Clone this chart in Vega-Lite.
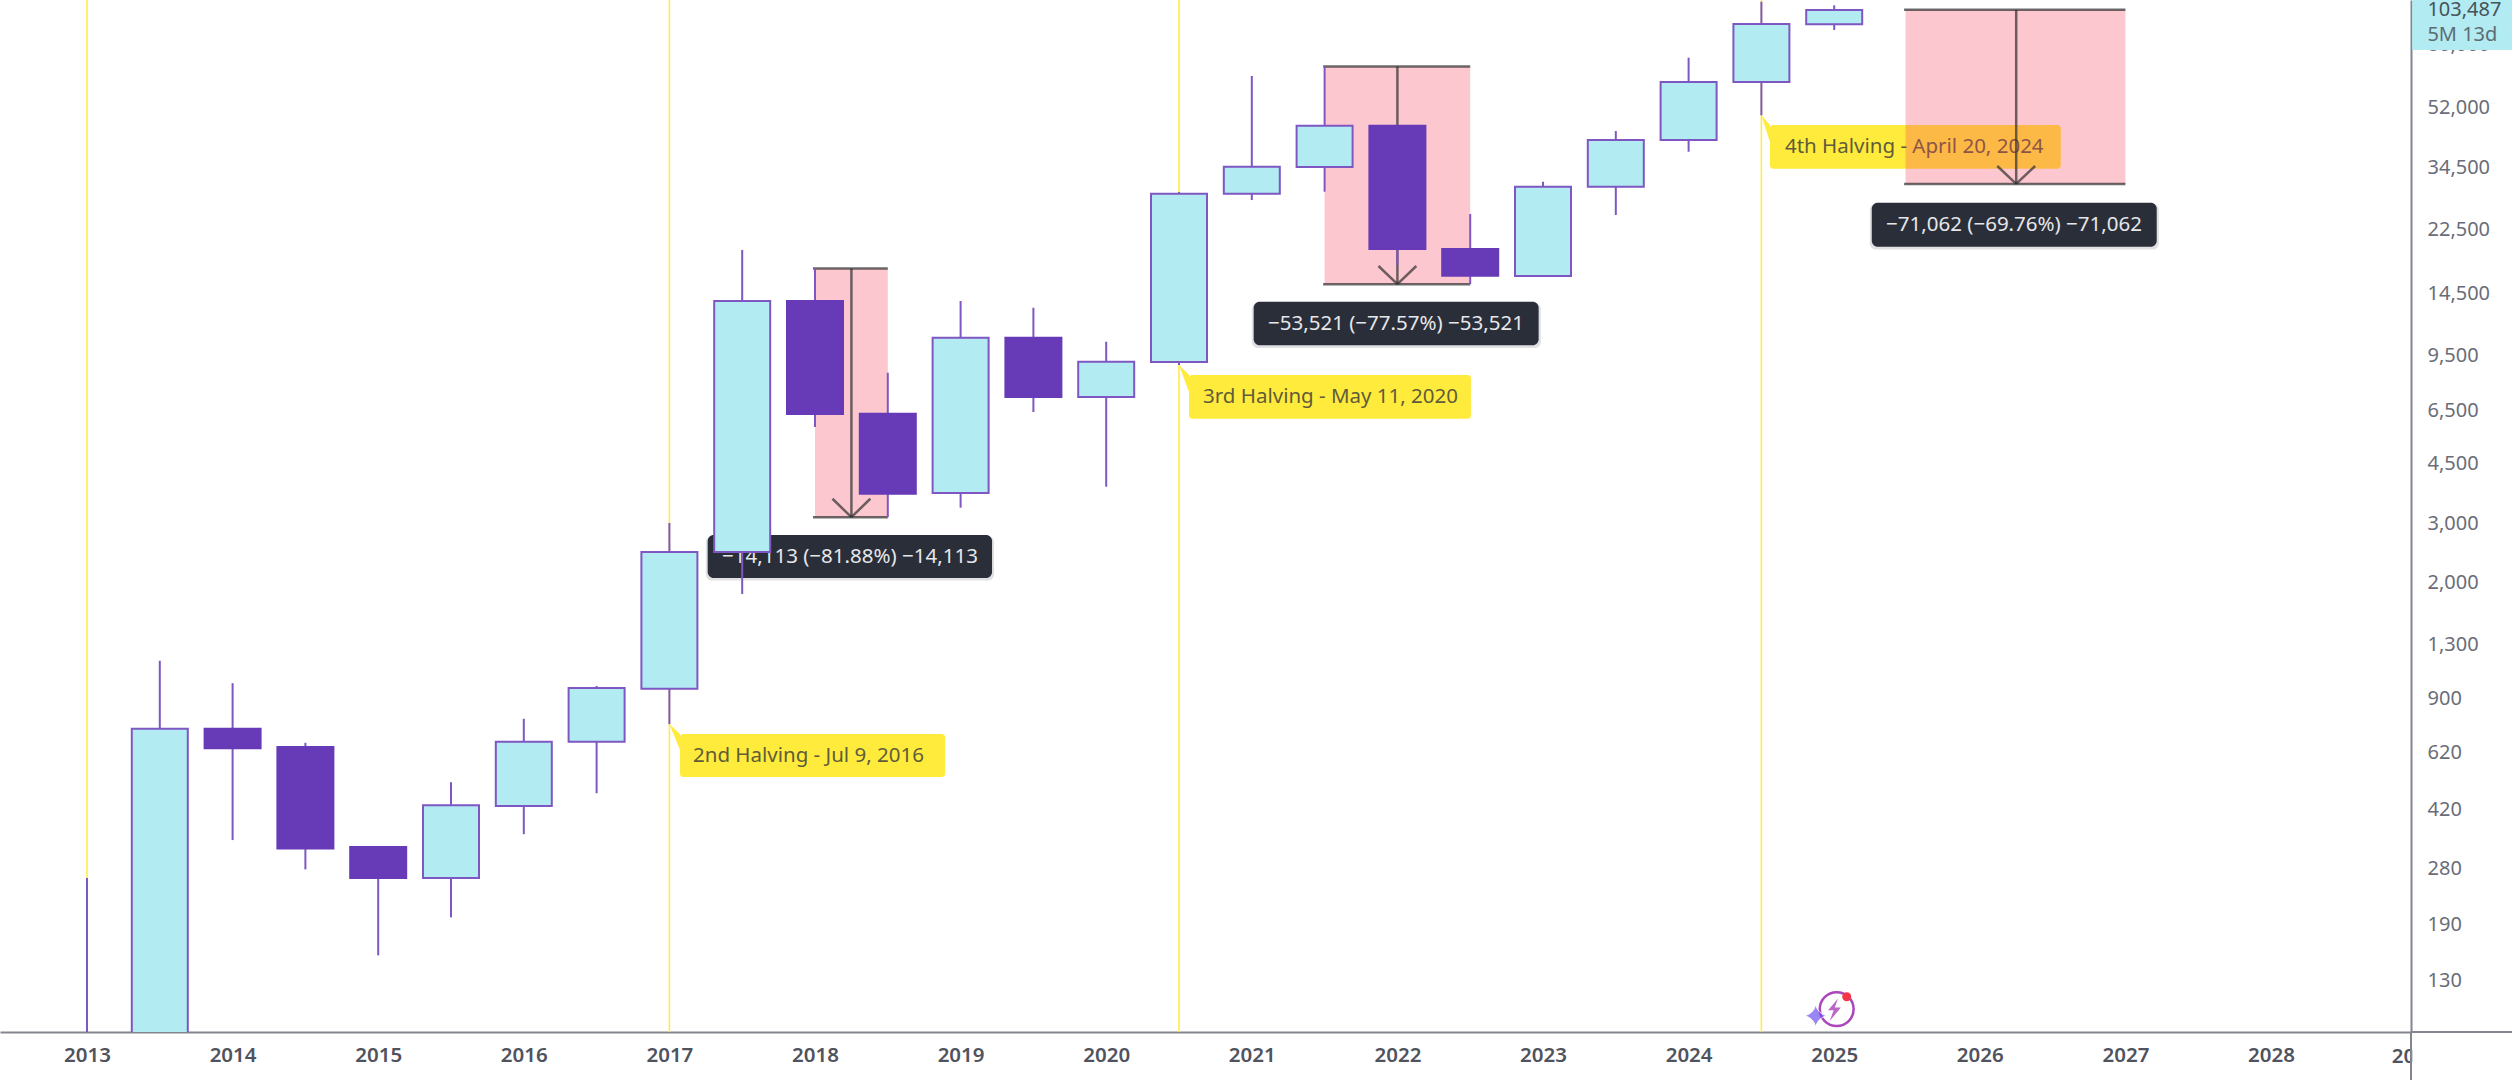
{
"$schema":"https://vega.github.io/schema/vega-lite/v6.json",
"width":2411,"height":1032,
"autosize":{"type":"none"},
"padding":{"left":0,"top":0,"right":101,"bottom":48},
"background":"#ffffff",
"config":{"view":{"stroke":null},"font":"Noto Sans","text":{"font":"Noto Sans"}},
"datasets":{
"candles":[
{"t":2013.0,"open":13,"high":262,"low":10,"close":88},
{"t":2013.5,"open":88,"high":1165,"low":65,"close":730},
{"t":2014.0,"open":730,"high":999,"low":340,"close":639},
{"t":2014.5,"open":644,"high":663,"low":278,"close":321},
{"t":2015.0,"open":324,"high":324,"low":154,"close":262},
{"t":2015.5,"open":262,"high":506,"low":200,"close":432},
{"t":2016.0,"open":430,"high":782,"low":354,"close":668},
{"t":2016.5,"open":668,"high":980,"low":469,"close":966},
{"t":2017.0,"open":962,"high":3001,"low":754,"close":2459},
{"t":2017.5,"open":2459,"high":19560,"low":1842,"close":13780},
{"t":2018.0,"open":13780,"high":17236,"low":5801,"close":6342},
{"t":2018.5,"open":6355,"high":8423,"low":3123,"close":3669},
{"t":2019.0,"open":3687,"high":13780,"low":3333,"close":10710},
{"t":2019.5,"open":10710,"high":13160,"low":6430,"close":7127},
{"t":2020.0,"open":7127,"high":10420,"low":3850,"close":9083},
{"t":2020.5,"open":9064,"high":29130,"low":8880,"close":28790},
{"t":2021.0,"open":28790,"high":64630,"low":27570,"close":34660},
{"t":2021.5,"open":34590,"high":68996,"low":29190,"close":45940},
{"t":2022.0,"open":45940,"high":46000,"low":17600,"close":19690},
{"t":2022.5,"open":19690,"high":25050,"low":15475,"close":16390},
{"t":2023.0,"open":16360,"high":31270,"low":16360,"close":30210},
{"t":2023.5,"open":30210,"high":44290,"low":24880,"close":41640},
{"t":2024.0,"open":41640,"high":73280,"low":38420,"close":62020},
{"t":2024.5,"open":62020,"high":107650,"low":49340,"close":92370},
{"t":2025.0,"open":92180,"high":105030,"low":88640,"close":101690}
],
"halvings":[{"t":2013.0,"v":108920,"v2":91},{"t":2017.0,"v":108920,"v2":91},{"t":2020.5,"v":108920,"v2":91},{"t":2024.5,"v":108920,"v2":91}],
"labelBoxes":[
{"t":2017.073,"t2":2018.893,"v":704,"v2":524},
{"t":2020.569,"t2":2022.505,"v":8291,"v2":6142},
{"t":2024.559,"t2":2026.556,"v":46163,"v2":34187}
],
"labelTails":[
{"n":"2nd","t":2017.0,"v":754,"v2":754},{"n":"2nd","t":2017.073,"v":704,"v2":631},
{"n":"3rd","t":2020.5,"v":8880,"v2":8880},{"n":"3rd","t":2020.569,"v":8291,"v2":7377},
{"n":"4th","t":2024.5,"v":49340,"v2":49340},{"n":"4th","t":2024.559,"v":46163,"v2":41070}
],
"labelTexts":[
{"t":2017.162,"v":607,"s":"2nd Halving - Jul 9, 2016"},
{"t":2020.665,"v":7127,"s":"3rd Halving - May 11, 2020"},
{"t":2024.662,"v":39680,"s":"4th Halving - April 20, 2024"}
],
"pink":[
{"t":2018.0,"t2":2018.5,"v":17236,"v2":3123},
{"t":2021.5,"t2":2022.5,"v":68996,"v2":15475},
{"t":2025.49,"t2":2027.0,"v":101867,"v2":30805}
],
"arrows":[
{"t":2017.986,"t2":2018.5,"v":17236,"v2":17236},
{"t":2017.986,"t2":2018.5,"v":3123,"v2":3123},
{"t":2018.25,"t2":2018.25,"v":17236,"v2":3123},
{"t":2018.25,"t2":2018.12,"v":3123,"v2":3544},
{"t":2018.25,"t2":2018.38,"v":3123,"v2":3544},
{"t":2021.49,"t2":2022.5,"v":68996,"v2":68996},
{"t":2021.49,"t2":2022.5,"v":15475,"v2":15475},
{"t":2022.0,"t2":2022.0,"v":68996,"v2":15475},
{"t":2022.0,"t2":2021.87,"v":15475,"v2":17525},
{"t":2022.0,"t2":2022.13,"v":15475,"v2":17525},
{"t":2025.48,"t2":2027.0,"v":101867,"v2":101867},
{"t":2025.48,"t2":2027.0,"v":30805,"v2":30805},
{"t":2026.25,"t2":2026.25,"v":101867,"v2":30805},
{"t":2026.25,"t2":2026.12,"v":30805,"v2":34830},
{"t":2026.25,"t2":2026.38,"v":30805,"v2":34830}
],
"darkBoxes":[
{"t":2017.263,"t2":2019.216,"v":2762,"v2":2056},
{"t":2021.013,"t2":2022.97,"v":13713,"v2":10166},
{"t":2025.258,"t2":2027.215,"v":27071,"v2":20008}
],
"darkShadows":[
{"t":2017.25,"t2":2019.23,"v":2740,"v2":2020},
{"t":2021.0,"t2":2022.985,"v":13600,"v2":9980},
{"t":2025.245,"t2":2027.23,"v":26850,"v2":19640}
],
"darkTexts":[
{"t":2018.24,"v":2383,"s":"−14,113 (−81.88%) −14,113"},
{"t":2021.99,"v":11807,"s":"−53,521 (−77.57%) −53,521"},
{"t":2026.235,"v":23273,"s":"−71,062 (−69.76%) −71,062"}
],
"cover":[{"t":2028.97,"t2":2029.655,"v":91,"v2":60}],
"tag":[{"t":2028.97,"t2":2029.655,"v":108920,"v2":77257}],
"frame":[
{"t":2028.9615,"t2":2028.9615,"v":91,"v2":60},
{"t":2028.9615,"t2":2029.655,"v":91,"v2":91}
],
"clippedYear":[{"t":2028.829,"v":76.6,"s":"20"}],
"tagTexts":[
{"t":2029.074,"v":101500,"s":"103,487","c":"a"},
{"t":2029.074,"v":85650,"s":"5M 13d","c":"b"}
],
"logoRing":[{"t":2025.017,"v":106.5}],
"logoStar":[{"t":2024.873,"v":101.7}],
"logoBolt":[{"t":2025.0,"v":106}],
"logoDot":[{"t":2025.086,"v":115.9}]
},
"encoding":{
"x":{"field":"t","type":"quantitative","scale":{"domain":[2012.4025,2028.9615],"nice":false,"zero":false,"padding":0},
"axis":{"values":[2013,2014,2015,2016,2017,2018,2019,2020,2021,2022,2023,2024,2025,2026,2027,2028],"format":"d","title":null,"grid":false,"ticks":false,"labelOverlap":false,"labelBound":false,"labelFlush":false,"labelFont":"Noto Sans","labelFontSize":20.5,"labelFontWeight":600,"labelColor":"#50535e","labelPadding":13,"domainColor":"#83858f","domainWidth":2}},
"y":{"field":"v","type":"quantitative","scale":{"type":"log","domain":[91,108920],"nice":false,"padding":0},
"axis":{"orient":"right","values":[130,190,280,420,620,900,1300,2000,3000,4500,6500,9500,14500,22500,34500,52000,80000],"format":",d","title":null,"grid":false,"ticks":false,"labelOverlap":false,"labelBound":false,"labelFlush":false,"labelFont":"Noto Sans","labelFontSize":20,"labelColor":"#6a6d78","labelPadding":16,"labelAlign":"left","domainColor":"#83858f","domainWidth":2}}
},
"layer":[
{"data":{"name":"halvings"},"mark":{"type":"rule","color":"#ffeb3b","strokeWidth":1.5},"encoding":{"y2":{"field":"v2"}}},
{"data":{"name":"labelBoxes"},"mark":{"type":"rect","color":"#ffeb3b","cornerRadius":3},"encoding":{"x2":{"field":"t2"},"y2":{"field":"v2"}}},
{"data":{"name":"labelTails"},"mark":{"type":"area","color":"#ffeb3b"},"encoding":{"detail":{"field":"n"},"y2":{"field":"v2"}}},
{"data":{"name":"labelTexts"},"mark":{"type":"text","align":"left","baseline":"middle","fontSize":20.5,"color":"#5f5c3c"},"encoding":{"text":{"field":"s"}}},
{"data":{"name":"pink"},"mark":{"type":"rect","color":"#f7445f","opacity":0.3},"encoding":{"x2":{"field":"t2"},"y2":{"field":"v2"}}},
{"data":{"name":"arrows"},"mark":{"type":"rule","color":"#333333","opacity":0.72,"strokeWidth":2.5},"encoding":{"x2":{"field":"t2"},"y2":{"field":"v2"}}},
{"data":{"name":"darkShadows"},"mark":{"type":"rect","color":"#2a2e39","opacity":0.14,"cornerRadius":6},"encoding":{"x2":{"field":"t2"},"y2":{"field":"v2"}}},
{"data":{"name":"darkBoxes"},"mark":{"type":"rect","color":"#2a2e39","cornerRadius":6},"encoding":{"x2":{"field":"t2"},"y2":{"field":"v2"}}},
{"data":{"name":"darkTexts"},"mark":{"type":"text","align":"center","baseline":"middle","fontSize":20.5,"color":"#e6e7ea"},"encoding":{"text":{"field":"s"}}},
{"data":{"name":"candles"},"mark":{"type":"rule","clip":true,"color":"#7e57c2","strokeWidth":2},"encoding":{"y":{"field":"low","type":"quantitative"},"y2":{"field":"high"}}},
{"data":{"name":"candles"},"mark":{"type":"bar","orient":"vertical","width":56,"clip":true,"strokeWidth":2},"encoding":{"y":{"field":"open","type":"quantitative"},"y2":{"field":"close"},
"fill":{"condition":{"test":"datum.close>datum.open","value":"#b2ebf2"},"value":"#673ab7"},
"stroke":{"condition":{"test":"datum.close>datum.open","value":"#7e57c2"},"value":"#673ab7"}}},
{"data":{"name":"logoRing"},"mark":{"type":"point","shape":"circle","size":1150,"filled":false,"color":"#9c27b0","strokeWidth":2.5,"opacity":0.85}},
{"data":{"name":"logoBolt"},"mark":{"type":"point","filled":true,"color":"#9c27b0","size":500,"shape":"M0.35,-1 L-0.55,0.05 L-0.05,0.05 L-0.4,1 L0.6,-0.2 L0.05,-0.2 Z"}},
{"data":{"name":"logoStar"},"mark":{"type":"point","filled":true,"color":"#6f52ee","stroke":"#ffffff","strokeWidth":1,"size":480,"shape":"M0,-1 Q0.2,-0.2 1,0 Q0.2,0.2 0,1 Q-0.2,0.2 -1,0 Q-0.2,-0.2 0,-1 Z"}},
{"data":{"name":"logoDot"},"mark":{"type":"point","filled":true,"color":"#f23645","opacity":1,"size":81,"shape":"circle"}},
{"data":{"name":"clippedYear"},"mark":{"type":"text","align":"left","baseline":"middle","fontSize":20.5,"fontWeight":600,"color":"#50535e"},"encoding":{"text":{"field":"s"}}},
{"data":{"name":"cover"},"mark":{"type":"rect","color":"#ffffff"},"encoding":{"x2":{"field":"t2"},"y2":{"field":"v2"}}},
{"data":{"name":"frame"},"mark":{"type":"rule","color":"#83858f","strokeWidth":2},"encoding":{"x2":{"field":"t2"},"y2":{"field":"v2"}}},
{"data":{"name":"tag"},"mark":{"type":"rect","color":"#b2ebf2"},"encoding":{"x2":{"field":"t2"},"y2":{"field":"v2"}}},
{"data":{"name":"tagTexts"},"mark":{"type":"text","align":"left","baseline":"middle","fontSize":20},"encoding":{"text":{"field":"s"},"color":{"field":"c","type":"nominal","scale":{"domain":["a","b"],"range":["#47525a","#5d6b73"]},"legend":null}}}
]
}
